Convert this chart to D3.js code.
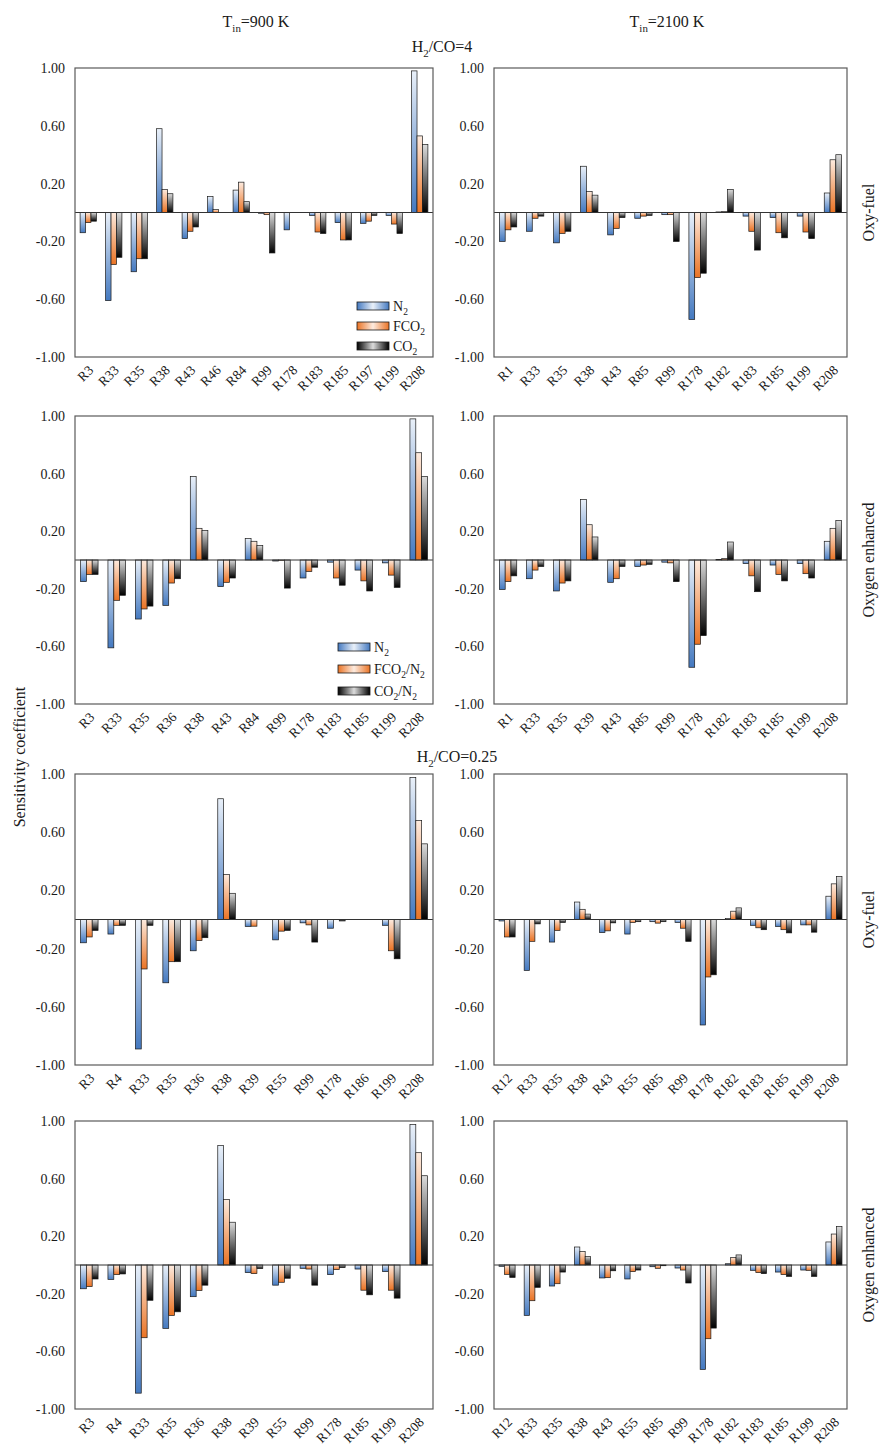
<!DOCTYPE html>
<html><head><meta charset="utf-8">
<script src="https://cdn.jsdelivr.net/npm/d3@7"></script>
<style>body{margin:0;background:#fff} text{font-family:"Liberation Serif","Times New Roman",serif;fill:#1a1a1a}</style>
</head><body><svg id="c" width="880" height="1448"></svg>
<script>
// ---------- DATA ----------
const yTicks = [-1.0, -0.6, -0.2, 0.2, 0.6, 1.0];
const seriesKeys = ["N2", "FCO2", "CO2"];

// H2/CO=4, Tin=900 K, Oxy-fuel
const catsA = ["R3","R33","R35","R38","R43","R46","R84","R99","R178","R183","R185","R197","R199","R208"];
const n2A   = [-0.14,-0.61,-0.41,0.58,-0.18,0.11,0.155,-0.005,-0.12,-0.02,-0.07,-0.075,-0.02,0.98];
const fco2A = [-0.07,-0.36,-0.32,0.16,-0.13,0.02,0.21,-0.015,0,-0.135,-0.19,-0.06,-0.08,0.53];
const co2A  = [-0.06,-0.31,-0.32,0.13,-0.10,0,0.075,-0.28,0,-0.145,-0.19,-0.02,-0.145,0.47];

// H2/CO=4, Tin=2100 K, Oxy-fuel
const catsB = ["R1","R33","R35","R38","R43","R85","R99","R178","R182","R183","R185","R199","R208"];
const n2B   = [-0.20,-0.13,-0.21,0.32,-0.155,-0.04,-0.015,-0.74,0.004,-0.025,-0.035,-0.025,0.135];
const fco2B = [-0.12,-0.04,-0.145,0.145,-0.11,-0.025,-0.015,-0.45,0.006,-0.13,-0.14,-0.135,0.365];
const co2B  = [-0.10,-0.025,-0.13,0.12,-0.035,-0.02,-0.20,-0.42,0.16,-0.26,-0.175,-0.18,0.40];

// H2/CO=4, Tin=900 K, Oxygen enhanced
const catsC = ["R3","R33","R35","R36","R38","R43","R84","R99","R178","R183","R185","R199","R208"];
const n2C   = [-0.15,-0.61,-0.41,-0.315,0.58,-0.185,0.15,-0.007,-0.125,-0.015,-0.07,-0.02,0.98];
const fco2C = [-0.10,-0.28,-0.34,-0.16,0.22,-0.155,0.13,-0.002,-0.08,-0.125,-0.145,-0.105,0.745];
const co2C  = [-0.10,-0.245,-0.32,-0.13,0.205,-0.125,0.10,-0.195,-0.05,-0.175,-0.215,-0.19,0.58];

// H2/CO=4, Tin=2100 K, Oxygen enhanced
const catsD = ["R1","R33","R35","R39","R43","R85","R99","R178","R182","R183","R185","R199","R208"];
const n2D   = [-0.205,-0.13,-0.215,0.42,-0.155,-0.045,-0.015,-0.745,0.004,-0.025,-0.035,-0.025,0.13];
const fco2D = [-0.15,-0.07,-0.16,0.245,-0.13,-0.035,-0.02,-0.585,0.01,-0.11,-0.10,-0.095,0.22];
const co2D  = [-0.11,-0.045,-0.145,0.16,-0.045,-0.03,-0.15,-0.525,0.125,-0.22,-0.145,-0.125,0.275];

// H2/CO=0.25, Tin=900 K, Oxy-fuel
const catsE = ["R3","R4","R33","R35","R36","R38","R39","R55","R99","R178","R186","R199","R208"];
const n2E   = [-0.16,-0.10,-0.89,-0.435,-0.215,0.83,-0.048,-0.14,-0.023,-0.06,0,-0.04,0.975];
const fco2E = [-0.12,-0.04,-0.34,-0.29,-0.145,0.31,-0.046,-0.08,-0.037,0,0,-0.215,0.68];
const co2E  = [-0.075,-0.04,-0.04,-0.29,-0.125,0.18,0,-0.075,-0.155,-0.01,0,-0.27,0.52];

// H2/CO=0.25, Tin=2100 K, Oxy-fuel
const catsF = ["R12","R33","R35","R38","R43","R55","R85","R99","R178","R182","R183","R185","R199","R208"];
const n2F   = [-0.01,-0.35,-0.155,0.12,-0.09,-0.10,-0.015,-0.02,-0.725,0.007,-0.04,-0.048,-0.037,0.16];
const fco2F = [-0.12,-0.15,-0.075,0.07,-0.078,-0.02,-0.025,-0.06,-0.395,0.057,-0.057,-0.07,-0.037,0.245];
const co2F  = [-0.12,-0.03,-0.02,0.037,-0.023,-0.015,-0.015,-0.15,-0.38,0.08,-0.07,-0.092,-0.087,0.295];

// H2/CO=0.25, Tin=900 K, Oxygen enhanced
const catsG = ["R3","R4","R33","R35","R36","R38","R39","R55","R99","R178","R185","R199","R208"];
const n2G   = [-0.165,-0.10,-0.89,-0.44,-0.22,0.83,-0.053,-0.14,-0.023,-0.067,-0.028,-0.046,0.975];
const fco2G = [-0.15,-0.067,-0.505,-0.35,-0.177,0.455,-0.06,-0.12,-0.028,-0.032,-0.175,-0.175,0.78];
const co2G  = [-0.097,-0.062,-0.245,-0.325,-0.14,0.297,-0.025,-0.092,-0.14,-0.018,-0.207,-0.23,0.62];

// H2/CO=0.25, Tin=2100 K, Oxygen enhanced
const catsH = ["R12","R33","R35","R38","R43","R55","R85","R99","R178","R182","R183","R185","R199","R208"];
const n2H   = [-0.009,-0.35,-0.146,0.125,-0.09,-0.097,-0.012,-0.021,-0.725,0.009,-0.037,-0.049,-0.035,0.16];
const fco2H = [-0.065,-0.248,-0.13,0.093,-0.088,-0.046,-0.023,-0.035,-0.512,0.053,-0.053,-0.067,-0.037,0.215];
const co2H  = [-0.086,-0.155,-0.049,0.06,-0.04,-0.035,-0.005,-0.125,-0.438,0.07,-0.06,-0.079,-0.079,0.267];

const legendOxy = [["N","2",""],["FCO","2",""],["CO","2",""]];
const legendEnh = [["N","2",""],["FCO","2","/N","2"],["CO","2","/N","2"]];

// ---------- LAYOUT ----------
const colX = [[75, 433], [494, 847]];
const rowY = [[68, 357], [416, 704], [774, 1065], [1121, 1409]];
const panels = [
  {cats: catsA, vals: [n2A, fco2A, co2A], c: 0, r: 0, legend: legendOxy},
  {cats: catsB, vals: [n2B, fco2B, co2B], c: 1, r: 0},
  {cats: catsC, vals: [n2C, fco2C, co2C], c: 0, r: 1, legend: legendEnh},
  {cats: catsD, vals: [n2D, fco2D, co2D], c: 1, r: 1},
  {cats: catsE, vals: [n2E, fco2E, co2E], c: 0, r: 2},
  {cats: catsF, vals: [n2F, fco2F, co2F], c: 1, r: 2},
  {cats: catsG, vals: [n2G, fco2G, co2G], c: 0, r: 3},
  {cats: catsH, vals: [n2H, fco2H, co2H], c: 1, r: 3},
];

const svg = d3.select("#c");
const defs = svg.append("defs");
const gradColors = {N2: ["#e9f0f9", "#4479c0"], FCO2: ["#fdebdf", "#ea7324"], CO2: ["#dcdcdc", "#000000"]};
seriesKeys.forEach(k => {
  const g = defs.append("linearGradient").attr("id", "g" + k).attr("x1", 0).attr("y1", 0).attr("x2", 0).attr("y2", 1);
  g.append("stop").attr("offset", "0%").attr("stop-color", gradColors[k][0]);
  g.append("stop").attr("offset", "100%").attr("stop-color", gradColors[k][1]);
  const h = defs.append("linearGradient").attr("id", "h" + k).attr("x1", 0).attr("y1", 0).attr("x2", 1).attr("y2", 0);
  h.append("stop").attr("offset", "0%").attr("stop-color", gradColors[k][1]);
  h.append("stop").attr("offset", "50%").attr("stop-color", gradColors[k][0]);
  h.append("stop").attr("offset", "100%").attr("stop-color", gradColors[k][1]);
});

function subText(sel, parts, size) {
  parts.forEach((p, i) => {
    if (!p) return;
    const isSub = i % 2 === 1;
    sel.append("tspan").text(p)
      .attr("font-size", isSub ? size * 0.68 : size)
      .attr("dy", isSub ? size * 0.3 : (i > 0 && parts[i - 1] ? -size * 0.3 : 0));
  });
}

const fmt = d => d3.format(".2f")(d).replace("\u2212", "-");

panels.forEach(p => {
  const [x0, x1] = colX[p.c];
  const [y0, y1] = rowY[p.r];
  const x = d3.scaleBand().domain(p.cats).range([x0, x1]).paddingInner(0.36).paddingOuter(0.2);
  const xs = d3.scaleBand().domain(seriesKeys).range([0, x.bandwidth()]);
  const y = d3.scaleLinear().domain([-1, 1]).range([y1, y0]);
  const g = svg.append("g");

  p.cats.forEach((cat, i) => {
    seriesKeys.forEach((k, si) => {
      const v = p.vals[si][i];
      if (v === 0) return;
      g.append("rect")
        .attr("x", x(cat) + xs(k))
        .attr("y", y(Math.max(0, v)))
        .attr("width", xs.bandwidth())
        .attr("height", Math.abs(y(v) - y(0)))
        .attr("fill", "url(#g" + k + ")")
        .attr("stroke", "#1a1a1a").attr("stroke-width", 0.7);
    });
  });

  g.append("line").attr("x1", x0).attr("x2", x1).attr("y1", y(0)).attr("y2", y(0))
    .attr("stroke", "#333").attr("stroke-width", 1);
  g.append("rect").attr("x", x0).attr("y", y0).attr("width", x1 - x0).attr("height", y1 - y0)
    .attr("fill", "none").attr("stroke", "#5a5a5a").attr("stroke-width", 1.2);

  const ya = g.append("g").attr("transform", `translate(${x0},0)`)
    .call(d3.axisLeft(y).tickValues(yTicks).tickFormat(fmt).tickSize(0).tickPadding(10));
  ya.select(".domain").remove();
  ya.selectAll("text").attr("font-size", 14).attr("font-family", "Liberation Serif").attr("fill", "#1a1a1a");

  const xa = g.append("g").attr("transform", `translate(0,${y1})`)
    .call(d3.axisBottom(x).tickSize(0).tickPadding(0));
  xa.select(".domain").remove();
  xa.selectAll(".tick text")
    .attr("font-size", 13.5).attr("font-family", "Liberation Serif").attr("fill", "#1a1a1a")
    .attr("text-anchor", "end").attr("dy", 0).attr("y", 0)
    .attr("transform", "translate(6,14) rotate(-45)");

  if (p.legend) {
    const wide = p.legend === legendEnh;
    const lx = wide ? x1 - 95 : x1 - 76;
    const tops = wide ? [y1 - 61, y1 - 39, y1 - 17] : [y1 - 55, y1 - 35, y1 - 15];
    seriesKeys.forEach((k, si) => {
      g.append("rect").attr("x", lx).attr("y", tops[si]).attr("width", 32).attr("height", 8)
        .attr("fill", "url(#h" + k + ")").attr("stroke", "#1a1a1a").attr("stroke-width", 0.8);
      const t = g.append("text").attr("x", lx + 36).attr("y", tops[si] + 9);
      subText(t, p.legend[si], 14);
    });
  }
});

function title(xc, yb, parts, size) {
  const t = svg.append("text").attr("x", xc).attr("y", yb).attr("text-anchor", "middle");
  subText(t, parts, size);
  return t;
}
title(256, 27, ["T", "in", "=900 K"], 16);
title(667, 27, ["T", "in", "=2100 K"], 16);
title(442, 52, ["H", "2", "/CO=4"], 16);
title(457, 762, ["H", "2", "/CO=0.25"], 16);

const rowLabels = ["Oxy-fuel", "Oxygen enhanced", "Oxy-fuel", "Oxygen enhanced"];
rowLabels.forEach((s, i) => {
  const yc = (rowY[i][0] + rowY[i][1]) / 2;
  svg.append("text").attr("transform", `translate(874,${yc}) rotate(-90)`)
    .attr("text-anchor", "middle").attr("font-size", 16).text(s);
});
svg.append("text").attr("transform", "translate(25,757) rotate(-90)")
  .attr("text-anchor", "middle").attr("font-size", 16).text("Sensitivity coefficient");
</script></body></html>
